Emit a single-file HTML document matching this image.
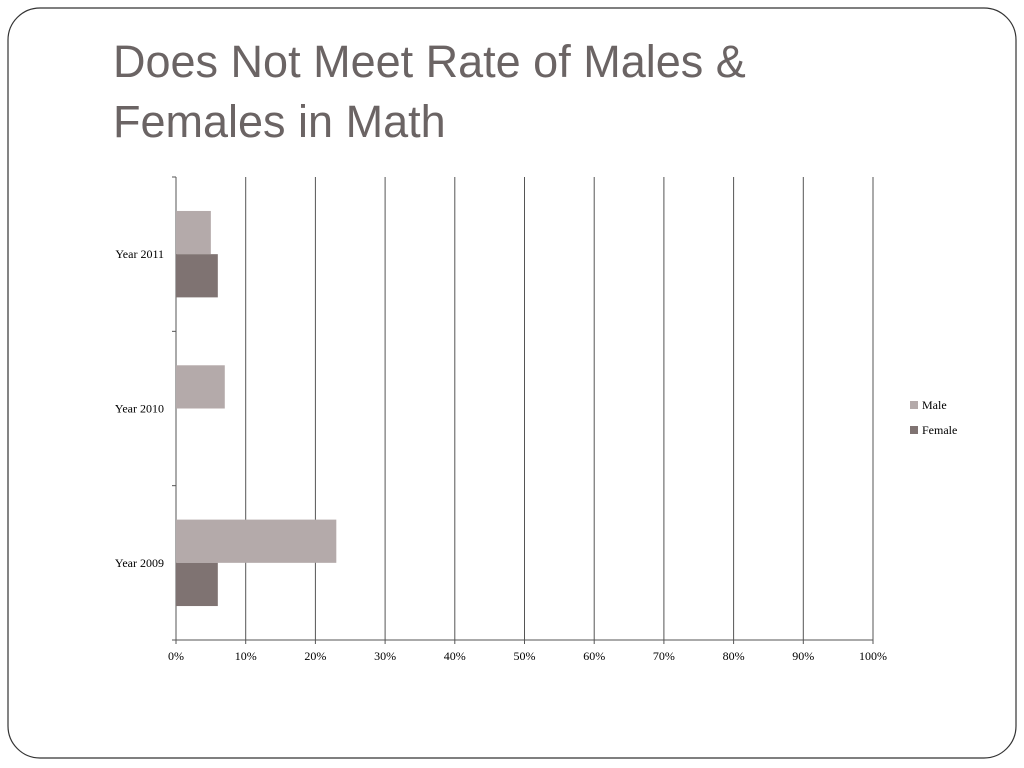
<!DOCTYPE html>
<html><head><meta charset="utf-8"><style>
body{margin:0;width:1024px;height:768px;background:#fff;overflow:hidden}
svg{display:block}
</style></head><body>
<svg id="chart" width="1024" height="768" xmlns="http://www.w3.org/2000/svg">
<rect x="8" y="8" width="1008" height="750" rx="32" ry="32" fill="#fff" stroke="#333" stroke-width="1.2"/>
<text x="113" y="77" font-family="Liberation Sans, sans-serif" font-size="45" fill="#6b6464">Does Not Meet Rate of Males &amp;</text>
<text x="113" y="137" font-family="Liberation Sans, sans-serif" font-size="45" fill="#6b6464">Females in Math</text>
<g id="plot"></g>
<g>
<rect x="910" y="401" width="8" height="8" fill="#b4aaaa"/>
<text x="922" y="409" font-family="Liberation Serif, serif" font-size="12" fill="#000">Male</text>
<rect x="910" y="426" width="8" height="8" fill="#7f7372"/>
<text x="922" y="434" font-family="Liberation Serif, serif" font-size="12" fill="#000">Female</text>
</g>
</svg>
<script>
const categories = ["Year 2011", "Year 2010", "Year 2009"];
const maleValues = [5, 7, 23];
const femaleValues = [6, 0, 6];
const tickLabels = ["0%","10%","20%","30%","40%","50%","60%","70%","80%","90%","100%"];
const ticks = [0,10,20,30,40,50,60,70,80,90,100];

const NS = "http://www.w3.org/2000/svg";
const g = document.getElementById("plot");
const x0 = 176, x1 = 873, yTop = 177, yBot = 640;
const xScale = v => x0 + (v / 100) * (x1 - x0);
const band = (yBot - yTop) / categories.length;
function mk(tag, attrs){const e=document.createElementNS(NS,tag);for(const k in attrs)e.setAttribute(k,attrs[k]);g.appendChild(e);return e;}

ticks.forEach((t,i)=>{
  const x = xScale(t);
  if(i>0){
    const l = mk("line",{x1:x,y1:yTop,x2:x,y2:yBot,stroke:"#555","stroke-width":1});
    
    
  }
  const tk = mk("line",{x1:x,y1:yBot,x2:x,y2:yBot+4,stroke:"#555"});
  
  
  const tx = mk("text",{x:x,y:yBot+20,"text-anchor":"middle","font-family":"Liberation Serif, serif","font-size":12,fill:"#000"});
  tx.textContent = tickLabels[i];
  
  
});
const ya = mk("line",{x1:x0,y1:yTop,x2:x0,y2:yBot,stroke:"#555"});


const xa = mk("line",{x1:x0,y1:yBot,x2:x1,y2:yBot,stroke:"#555"});


for(let i=0;i<=categories.length;i++){
  const y = yTop + i*band;
  const t = mk("line",{x1:x0-4,y1:y,x2:x0,y2:y,stroke:"#555"});
  
  
}
const barH = band * 0.28;
categories.forEach((c,i)=>{
  const yc = yTop + i*band + band/2;
  const lb = mk("text",{x:164,y:yc+4,"text-anchor":"end","font-family":"Liberation Serif, serif","font-size":12,fill:"#000"});
  lb.textContent = c;
  
  
  const m = mk("rect",{x:x0,y:yc-barH,width:xScale(maleValues[i])-x0,height:barH,fill:"#b4aaaa"});
  
  
  const f = mk("rect",{x:x0,y:yc,width:xScale(femaleValues[i])-x0,height:barH,fill:"#7f7372"});
  
  
});
</script>
</body></html>
